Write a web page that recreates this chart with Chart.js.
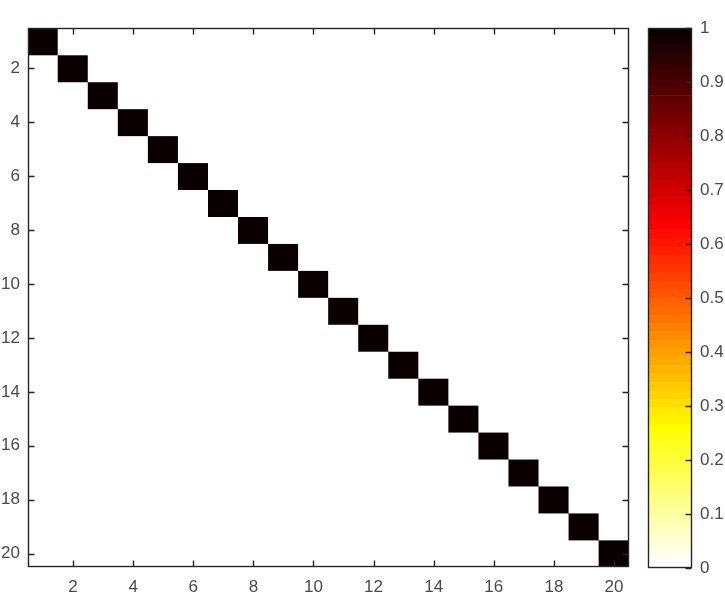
<!DOCTYPE html>
<html>
<head>
<meta charset="utf-8">
<script src="https://cdn.jsdelivr.net/npm/chart.js@4.4.1/dist/chart.umd.min.js"></script>
<style>
  body { margin: 0; background: #fff; }
  canvas { position: absolute; left: 0; top: 0; }
</style>
</head>
<body>
<canvas id="heat" width="725" height="601"></canvas>
<canvas id="cbar" width="725" height="601"></canvas>
<script>
// matrix values, row 1 at the top
const rowIds = [1,2,3,4,5,6,7,8,9,10,11,12,13,14,15,16,17,18,19,20]
const colIds = [1,2,3,4,5,6,7,8,9,10,11,12,13,14,15,16,17,18,19,20]
const values = [
  [1,0,0,0,0,0,0,0,0,0,0,0,0,0,0,0,0,0,0,0],
  [0,1,0,0,0,0,0,0,0,0,0,0,0,0,0,0,0,0,0,0],
  [0,0,1,0,0,0,0,0,0,0,0,0,0,0,0,0,0,0,0,0],
  [0,0,0,1,0,0,0,0,0,0,0,0,0,0,0,0,0,0,0,0],
  [0,0,0,0,1,0,0,0,0,0,0,0,0,0,0,0,0,0,0,0],
  [0,0,0,0,0,1,0,0,0,0,0,0,0,0,0,0,0,0,0,0],
  [0,0,0,0,0,0,1,0,0,0,0,0,0,0,0,0,0,0,0,0],
  [0,0,0,0,0,0,0,1,0,0,0,0,0,0,0,0,0,0,0,0],
  [0,0,0,0,0,0,0,0,1,0,0,0,0,0,0,0,0,0,0,0],
  [0,0,0,0,0,0,0,0,0,1,0,0,0,0,0,0,0,0,0,0],
  [0,0,0,0,0,0,0,0,0,0,1,0,0,0,0,0,0,0,0,0],
  [0,0,0,0,0,0,0,0,0,0,0,1,0,0,0,0,0,0,0,0],
  [0,0,0,0,0,0,0,0,0,0,0,0,1,0,0,0,0,0,0,0],
  [0,0,0,0,0,0,0,0,0,0,0,0,0,1,0,0,0,0,0,0],
  [0,0,0,0,0,0,0,0,0,0,0,0,0,0,1,0,0,0,0,0],
  [0,0,0,0,0,0,0,0,0,0,0,0,0,0,0,1,0,0,0,0],
  [0,0,0,0,0,0,0,0,0,0,0,0,0,0,0,0,1,0,0,0],
  [0,0,0,0,0,0,0,0,0,0,0,0,0,0,0,0,0,1,0,0],
  [0,0,0,0,0,0,0,0,0,0,0,0,0,0,0,0,0,0,1,0],
  [0,0,0,0,0,0,0,0,0,0,0,0,0,0,0,0,0,0,0,1]
]
const axisTicks = [2,4,6,8,10,12,14,16,18,20]
const cbarTicks = [0,0.1,0.2,0.3,0.4,0.5,0.6,0.7,0.8,0.9,1]

// reversed "hot" colormap, 64 steps
const nColors = 64
function hotRev(k) {
  const j = nColors - 1 - k
  const n = 24
  const r = j < n ? (j + 1) / n : 1
  const g = j < n ? 0 : (j < 2 * n ? (j - n + 1) / n : 1)
  const b = j < 2 * n ? 0 : (j - 2 * n + 1) / (nColors - 2 * n)
  return `rgb(${Math.round(r * 255)},${Math.round(g * 255)},${Math.round(b * 255)})`
}
function colorFor(v) {
  const k = Math.min(Math.floor(v * nColors), nColors - 1)
  return hotRev(k)
}

const axisColor = '#262626'
const labelFont = { family: '"Liberation Sans", Arial, sans-serif', size: 17 }
const labelColor = '#4a4a4a'

// inward tick marks + box
const boxTicks = {
  id: 'boxTicks',
  afterDraw(chart, args, opts) {
    const ctx = chart.ctx
    const a = chart.chartArea
    const L = Math.round(a.left) + 0.5, R = Math.round(a.right) - 0.5
    const T = Math.round(a.top) + 0.5, B = Math.round(a.bottom) - 0.5
    ctx.save()
    ctx.strokeStyle = axisColor
    ctx.lineWidth = 1.4
    ctx.strokeRect(L, T, R - L, B - T)
    const len = 6
    ctx.beginPath()
    if (opts.xy) {
      chart.scales.x.ticks.forEach(t => {
        const px = Math.round(chart.scales.x.getPixelForValue(t.value)) + 0.5
        ctx.moveTo(px, B); ctx.lineTo(px, B - len)
        ctx.moveTo(px, T); ctx.lineTo(px, T + len)
      })
      chart.scales.y.ticks.forEach(t => {
        const py = Math.round(chart.scales.y.getPixelForValue(t.value)) + 0.5
        ctx.moveTo(L, py); ctx.lineTo(L + len, py)
        ctx.moveTo(R, py); ctx.lineTo(R - len, py)
      })
    } else {
      chart.scales.y.ticks.forEach(t => {
        const py = Math.round(chart.scales.y.getPixelForValue(t.value)) + 0.5
        ctx.moveTo(R, py); ctx.lineTo(R - len, py)
      })
    }
    ctx.stroke()
    ctx.restore()
  }
}

const heatSets = rowIds.map((r, ri) => ({
  data: colIds.map(c => ({ x: c, y: [r - 0.5, r + 0.5] })),
  backgroundColor: colIds.map((c, ci) => colorFor(values[ri][ci])),
  borderWidth: 0,
  grouped: false,
  barPercentage: 1,
  categoryPercentage: 1
}))

new Chart(document.getElementById('heat'), {
  type: 'bar',
  data: { datasets: heatSets },
  options: {
    responsive: false,
    animation: false,
    devicePixelRatio: 1,
    layout: { padding: { left: 0, top: 28, right: 96, bottom: 0 } },
    plugins: { legend: { display: false }, tooltip: { enabled: false }, boxTicks: { xy: true } },
    scales: {
      x: {
        type: 'linear', min: 0.5, max: 20.5, offset: false,
        grid: { display: false, drawTicks: false }, border: { display: false },
        afterBuildTicks: s => { s.ticks = axisTicks.map(v => ({ value: v })) },
        afterFit: s => { s.height = 34 },
        ticks: { padding: 10, font: labelFont, color: labelColor, maxRotation: 0 }
      },
      y: {
        type: 'linear', min: 0.5, max: 20.5, reverse: true,
        grid: { display: false, drawTicks: false }, border: { display: false },
        afterBuildTicks: s => { s.ticks = axisTicks.map(v => ({ value: v })) },
        afterFit: s => { s.width = 28 },
        ticks: { padding: 8, font: labelFont, color: labelColor }
      }
    }
  },
  plugins: [boxTicks]
})

const cbarSets = []
for (let k = 0; k < nColors; k++) {
  cbarSets.push({
    data: [[k / nColors, (k + 1) / nColors]],
    backgroundColor: hotRev(k),
    borderWidth: 0,
    grouped: false,
    barPercentage: 1,
    categoryPercentage: 1
  })
}

new Chart(document.getElementById('cbar'), {
  type: 'bar',
  data: { labels: [''], datasets: cbarSets },
  options: {
    responsive: false,
    animation: false,
    devicePixelRatio: 1,
    layout: { padding: { left: 648, top: 28, right: 0, bottom: 33 } },
    plugins: { legend: { display: false }, tooltip: { enabled: false }, boxTicks: { xy: false } },
    scales: {
      x: { display: false },
      y: {
        type: 'linear', position: 'right', min: 0, max: 1,
        grid: { display: false, drawTicks: false }, border: { display: false },
        afterBuildTicks: s => { s.ticks = cbarTicks.map(v => ({ value: v })) },
        afterFit: s => { s.width = 33 },
        ticks: { padding: 8, font: labelFont, color: labelColor, callback: v => String(v) }
      }
    }
  },
  plugins: [boxTicks]
})
</script>
</body>
</html>
